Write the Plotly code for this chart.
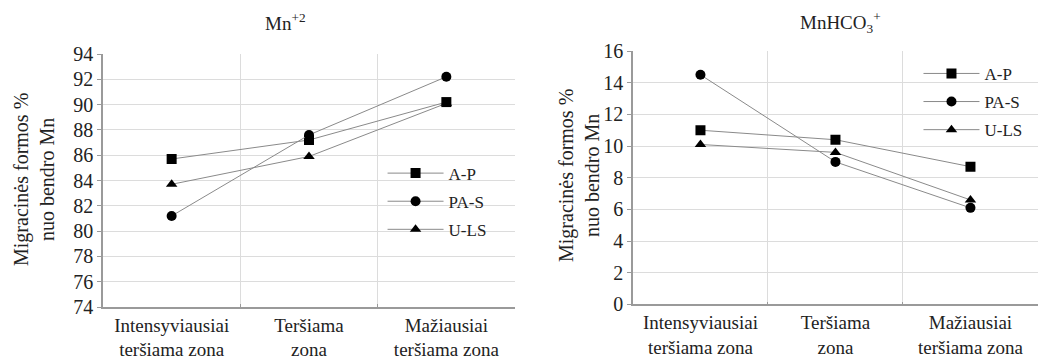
import plotly.graph_objects as go

# Zones along the pollution gradient
zones = ["Intensyviausiai<br>teršiama zona", "Teršiama<br>zona", "Mažiausiai<br>teršiama zona"]
series_names = ["A-P", "PA-S", "U-LS"]
symbols = ["square", "circle", "triangle-up"]

# Share of Mn2+ in total Mn (%)
mn2_ap = [85.7, 87.2, 90.2]
mn2_pas = [81.2, 87.6, 92.2]
mn2_uls = [83.7, 85.9, 90.1]

# Share of MnHCO3+ in total Mn (%)
mnhco3_ap = [11.0, 10.4, 8.7]
mnhco3_pas = [14.5, 9.0, 6.1]
mnhco3_uls = [10.1, 9.6, 6.6]

FONT = "Liberation Serif"
LINE = "#8a8a8a"
GRID = "#dcdcdc"
AXIS = "#9a9a9a"
TXT = "#222222"

fig = go.Figure()

panels = [
    ([mn2_ap, mn2_pas, mn2_uls], "x", "y", "legend"),
    ([mnhco3_ap, mnhco3_pas, mnhco3_uls], "x2", "y2", "legend2"),
]
for values, xa, ya, lg in panels:
    for name, sym, vals in zip(series_names, symbols, values):
        fig.add_trace(go.Scatter(
            x=zones, y=vals, name=name, mode="lines+markers",
            xaxis=xa, yaxis=ya, legend=lg, legendgroup=name + lg,
            line=dict(color=LINE, width=1),
            marker=dict(symbol=sym, size=10, color="black"),
        ))

xcommon = dict(
    type="category", tickson="boundaries", ticks="inside", ticklen=3,
    tickcolor=AXIS, showgrid=True, gridcolor=GRID, gridwidth=1,
    showline=True, linecolor=AXIS, linewidth=1.5, mirror=False,
    tickfont=dict(family=FONT, size=19, color=TXT), tickangle=0,
    automargin=False, range=[-0.5, 2.5], fixedrange=True,
)
ycommon = dict(
    ticks="outside", ticklen=4, tickcolor=AXIS, showgrid=True,
    gridcolor=GRID, gridwidth=1, showline=True, linecolor=AXIS,
    linewidth=1.5, tickfont=dict(family=FONT, size=20, color=TXT),
    zeroline=False, dtick=2, automargin=False,
)
legcommon = dict(xanchor="left", yanchor="top",
                 font=dict(family=FONT, size=17, color=TXT),
                 bgcolor="rgba(0,0,0,0)", tracegroupgap=3, itemwidth=56)

fig.update_layout(
    width=1039, height=356,
    margin=dict(l=0, r=0, t=0, b=0, autoexpand=False),
    paper_bgcolor="white", plot_bgcolor="white",
    font=dict(family=FONT, color=TXT),
    xaxis=dict(domain=[0.0991, 0.4957], anchor="y", **xcommon),
    yaxis=dict(domain=[0.1376, 0.8483], anchor="x", range=[74, 94], **ycommon),
    xaxis2=dict(domain=[0.6092, 0.999], anchor="y2", **xcommon),
    yaxis2=dict(domain=[0.1447, 0.8567], anchor="x2", range=[0, 16], **ycommon),
    legend=dict(x=0.3682, y=0.563, **legcommon),
    legend2=dict(x=0.884, y=0.843, **legcommon),
    annotations=[
        dict(text="Mn<sup>+2</sup>", x=285 / 1039, y=1 - 22 / 356, xref="paper",
             yref="paper", showarrow=False, xanchor="center", yanchor="middle",
             font=dict(family=FONT, size=19, color=TXT)),
        dict(text="MnHCO<sub>3</sub><sup>+</sup>", x=840 / 1039, y=1 - 22 / 356,
             xref="paper", yref="paper", showarrow=False, xanchor="center",
             yanchor="middle", font=dict(family=FONT, size=19, color=TXT)),
        dict(text="Migracinės formos %<br>nuo bendro Mn", x=34 / 1039,
             y=1 - 180 / 356, xref="paper", yref="paper", showarrow=False,
             xanchor="center", yanchor="middle",
             textangle=-90, font=dict(family=FONT, size=20, color=TXT)),
        dict(text="Migracinės formos %<br>nuo bendro Mn", x=579 / 1039,
             y=1 - 176 / 356, xref="paper", yref="paper", showarrow=False,
             xanchor="center", yanchor="middle",
             textangle=-90, font=dict(family=FONT, size=20, color=TXT)),
    ],
)

fig.write_html("out.html")
